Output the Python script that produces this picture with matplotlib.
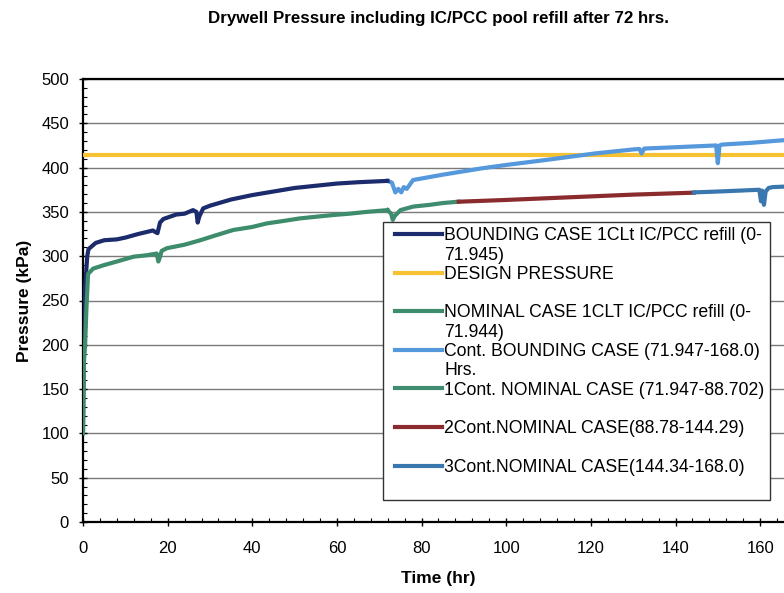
import matplotlib
matplotlib.use("Agg")
import matplotlib.pyplot as plt
from matplotlib.lines import Line2D
from matplotlib.legend_handler import HandlerLine2D
from matplotlib.ticker import MultipleLocator

plt.rcParams['font.family'] = ['Liberation Sans', 'DejaVu Sans']

# ---- data ----
bound_x = [0, 0.3, 1.0, 1.3, 3, 5, 8, 10, 13, 16.5, 17.2, 17.6, 18.2, 19, 22, 24, 26,
           26.8, 27.1, 27.5, 28.4, 30, 35, 40, 45, 50, 55, 60, 65, 71.945]
bound_y = [101, 250, 300, 308, 315, 318, 319, 321, 325, 329, 327, 326, 338, 342, 347, 348, 352,
           350, 338, 345, 354, 357, 364, 369, 373, 377, 379.5, 382, 383.5, 385]

design_x = [0, 168]
design_y = [414, 414]

nom_x = [0, 0.2, 0.5, 0.8, 1.2, 2.4, 5, 8, 12, 15, 17.4, 17.8, 18.1, 18.6, 19.8, 24, 27.7,
         31, 35.5, 40, 43.4, 47, 51.3, 55, 59.2, 63, 67, 71.944]
nom_y = [100, 180, 200, 240, 280, 286, 290, 294, 299.5, 301, 303, 294, 298, 306, 309, 313, 318,
         323, 329.6, 333, 337, 339.5, 342.7, 344.5, 346.5, 348, 350, 352]

cbound_x = [71.947, 73, 73.8, 74.5, 75.2, 75.8, 76.5, 78, 85, 94, 100, 110, 121, 130, 131.5,
            132, 132.6, 140, 149.6, 150.0, 150.4, 151, 158, 165.7, 168]
cbound_y = [385, 383, 372, 376, 372, 378, 376, 386, 392, 399, 403, 409, 416, 420.5, 421,
            416, 421.5, 423, 425, 405, 425, 426, 428, 431, 432]

c1_x = [71.947, 72.8, 73.2, 73.6, 74.2, 75, 78, 82, 85, 88.702]
c1_y = [352, 348, 341, 345, 348, 352, 356, 358, 360, 361.5]

c2_x = [88.78, 100, 110, 120, 130, 144.29]
c2_y = [361.5, 363.5, 365.5, 367.5, 369.5, 371.7]

c3_x = [144.34, 150, 155, 159.8, 160.2, 160.5, 160.9, 161.3, 162, 163, 165.5, 168]
c3_y = [372, 373, 374, 375, 362, 374, 358, 373, 377, 378, 378.5, 379]

labels = ["BOUNDING CASE 1CLt IC/PCC refill (0-", "71.945)",
          "DESIGN PRESSURE", "",
          "NOMINAL CASE 1CLT IC/PCC refill (0-", "71.944)",
          "Cont. BOUNDING CASE (71.947-168.0)", "Hrs.",
          "1Cont. NOMINAL CASE (71.947-88.702)", "",
          "2Cont.NOMINAL CASE(88.78-144.29)", "",
          "3Cont.NOMINAL CASE(144.34-168.0)", ""]

c_bound = '#1c2b6b'
c_design = '#f7c232'
c_nom = '#3d8c6c'
c_cbound = '#5598dc'
c_c1 = '#3f8c70'
c_c2 = '#8a2b2e'
c_c3 = '#3a77ae'

fig = plt.figure(figsize=(7.84, 5.93), dpi=100)
ax = fig.add_axes([83/784, 71/593, (794-83)/784, (522-79)/593])

lw = 3.0
ax.plot(design_x, design_y, color=c_design, lw=lw, zorder=3)
ax.plot(cbound_x, cbound_y, color=c_cbound, lw=lw, zorder=4)
ax.plot(bound_x, bound_y, color=c_bound, lw=lw, zorder=5)
ax.plot(c1_x, c1_y, color=c_c1, lw=lw, zorder=4)
ax.plot(c2_x, c2_y, color=c_c2, lw=lw, zorder=4)
ax.plot(c3_x, c3_y, color=c_c3, lw=lw, zorder=4)
ax.plot(nom_x, nom_y, color=c_nom, lw=lw, zorder=5)

ax.set_xlim(0, 168)
ax.set_ylim(0, 500)
ax.xaxis.set_major_locator(MultipleLocator(20))
ax.xaxis.set_minor_locator(MultipleLocator(4))
ax.yaxis.set_major_locator(MultipleLocator(50))
ax.yaxis.set_minor_locator(MultipleLocator(10))
ax.grid(axis='y', which='major', color='#7a7a7a', lw=1.0, zorder=1)
ax.set_axisbelow(True)

for s in ['left', 'bottom', 'top']:
    ax.spines[s].set_linewidth(1.6)
    ax.spines[s].set_color('black')
ax.spines['right'].set_visible(False)

ax.tick_params(axis='both', which='major', direction='inout', length=6, width=1.0,
               labelsize=12)
ax.tick_params(axis='both', which='minor', direction='in', length=3, width=0.8)
ax.tick_params(axis='x', which='major', pad=11)
ax.tick_params(axis='y', which='major', pad=7)
ax.tick_params(top=False, right=False, which='both')

fig.text(438/784, 1 - 18/593, "Drywell Pressure including IC/PCC pool refill after 72 hrs.",
         ha='center', va='center', fontsize=12.2, fontweight='bold')
fig.text(438/784, 1 - 578/593, "Time (hr)", ha='center', va='center',
         fontsize=12.5, fontweight='bold')
fig.text(25/784, 1 - 301/593, "Pressure (kPa)", ha='center', va='center', rotation=90,
         fontsize=12.5, fontweight='bold')

colors = [c_bound, 'none', c_design, 'none', c_nom, 'none', c_cbound, 'none',
          c_c1, 'none', c_c2, 'none', c_c3, 'none']
handles = [Line2D([], [], color=c, lw=lw) for c in colors]
fs = 12.7
fspx = fs * 100 / 72
leg = fig.legend(handles, labels, loc='upper left',
                 bbox_to_anchor=(383/784, 1 - 222/593),
                 bbox_transform=fig.transFigure,
                 fontsize=fs, frameon=True, fancybox=False, shadow=False,
                 borderpad=0.3, labelspacing=0.13, handlelength=(47 + 7) / fspx,
                 handletextpad=0.12, borderaxespad=0,
                 handler_map={Line2D: HandlerLine2D(xpad=7 / fspx)})
leg.get_frame().set_edgecolor('#333333')
leg.get_frame().set_linewidth(1.0)
leg.get_frame().set_facecolor('white')
leg.get_frame().set_alpha(1.0)
leg.set_zorder(10)

fig.savefig("out.png", dpi=100)
